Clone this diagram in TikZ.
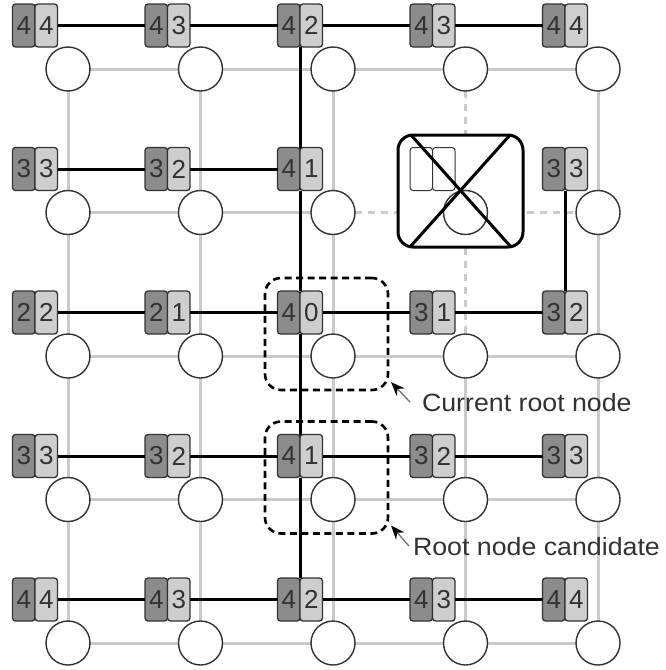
\documentclass[tikz,border=0pt]{standalone}
\usepackage{fontspec}
\setmainfont{Liberation Sans}
\newfontfamily\labelfont[FakeStretch=1.07]{Liberation Sans}
\usetikzlibrary{arrows.meta}

\definecolor{boxdark}{RGB}{140,140,140}
\definecolor{boxlight}{RGB}{206,206,206}
\definecolor{gridgray}{RGB}{202,202,202}
\definecolor{ink}{RGB}{50,50,50}

\pgfdeclarelayer{background}
\pgfsetlayers{background,main}

\begin{document}
\begin{tikzpicture}[x=1pt,y=-1pt,
  every node/.style={inner sep=0pt, outer sep=0pt},
  router/.style={circle, draw=ink, line width=1.4pt, fill=white, minimum size=44pt},
  halfbox/.style={rectangle, rounded corners=3pt, draw=ink, line width=1.3pt,
    minimum width=22.5pt, minimum height=43pt, text=ink,
    font=\fontsize{26}{26}\selectfont},
  dkbox/.style={halfbox, fill=boxdark, anchor=east},
  ltbox/.style={halfbox, fill=boxlight, anchor=west},
  link/.style={gridgray, line width=3pt},
  deadlink/.style={link, dash pattern=on 7pt off 6pt},
  tree/.style={black, line width=3pt},
  highlight/.style={rectangle, rounded corners=16pt, draw=black, line width=2.6pt,
    dash pattern=on 7pt off 4.5pt, minimum width=123pt, minimum height=112pt},
  failed/.style={rectangle, rounded corners=15pt, draw=black, line width=3pt,
    fill=white, minimum width=125pt, minimum height=112pt},
  callout/.style={draw=ink!70, line width=1.3pt,
    -{Stealth[length=14pt,width=11pt,color=black]}},
  caption/.style={font=\labelfont\fontsize{25}{25}\selectfont, text=ink, anchor=base west}
]
\useasboundingbox (0,0) rectangle (665,670);

% failed router: framed and crossed out
\node[failed] (dead) at (460.5,191) {};

% routers of the 5x5 mesh
\foreach \i/\x in {1/68,2/200.5,3/333,4/465.5,5/598}
  \foreach \j/\y in {1/69,2/212.5,3/356,4/499.5,5/643}
    \node[router] (c-\i-\j) at (\x,\y) {};

% mesh links
\begin{pgfonlayer}{background}
  \foreach \j in {1,3,4,5}
    \foreach \i/\n in {1/2,2/3,3/4,4/5}
      \draw[link] (c-\i-\j) -- (c-\n-\j);
  \draw[link] (c-1-2) -- (c-2-2) -- (c-3-2);
  \draw[deadlink] (c-3-2) -- (c-4-2) -- (c-5-2);
  \foreach \i in {1,2,3,5}
    \foreach \j/\n in {1/2,2/3,3/4,4/5}
      \draw[link] (c-\i-\j) -- (c-\i-\n);
  \draw[link] (c-4-3) -- (c-4-4) -- (c-4-5);
  \draw[deadlink] (c-4-1) -- (c-4-2) -- (c-4-3);
\end{pgfonlayer}

% distance labels of each router
\foreach \i/\j/\a/\b in {
    1/1/4/4, 2/1/4/3, 3/1/4/2, 4/1/4/3, 5/1/4/4,
    1/2/3/3, 2/2/3/2, 3/2/4/1,          5/2/3/3,
    1/3/2/2, 2/3/2/1, 3/3/4/0, 4/3/3/1, 5/3/3/2,
    1/4/3/3, 2/4/3/2, 3/4/4/1, 4/4/3/2, 5/4/3/3,
    1/5/4/4, 2/5/4/3, 3/5/4/2, 4/5/4/3, 5/5/4/4} {
  \node[dkbox] (dk-\i-\j) at ([shift={(-33,-43.5)}]c-\i-\j.center) {\a};
  \node[ltbox] (lt-\i-\j) at ([shift={(-33,-43.5)}]c-\i-\j.center) {\b};
}
\node[dkbox, fill=white, line width=1pt] (dk-4-2) at ([shift={(-33,-43.5)}]c-4-2.center) {};
\node[ltbox, fill=white, line width=1pt] (lt-4-2) at ([shift={(-33,-43.5)}]c-4-2.center) {};

% cross over the failed router
\draw[line width=3pt] ([xshift=13pt]dead.north west) -- ([xshift=-12pt]dead.south east);
\draw[line width=3pt] ([xshift=-13pt]dead.north east) -- ([xshift=12pt]dead.south west);

% spanning tree
\foreach \j in {1,3,4,5}
  \foreach \i/\n in {1/2,2/3,3/4,4/5}
    \draw[tree] (lt-\i-\j.east) -- (dk-\n-\j.west);
\draw[tree] (lt-1-2.east) -- (dk-2-2.west);
\draw[tree] (lt-2-2.east) -- (dk-3-2.west);
\foreach \j/\n in {1/2,2/3,3/4,4/5}
  \draw[tree] (dk-3-\j.south east) -- (dk-3-\n.north east);
\draw[tree] (dk-5-2.south east) -- (dk-5-3.north east);

% highlighted roots
\node[highlight] (hl-cur) at (326.5,334) {};
\node[highlight] (hl-cand) at (326.5,477.5) {};

\node[caption] (cap-cur) at (422,411) {Current root node};
\node[caption] (cap-cand) at (413,555) {Root node candidate};

\draw[callout] ([xshift=-12pt]cap-cur.west) -- ([shift={(3,-8)}]hl-cur.south east);
\draw[callout] ([xshift=-4pt]cap-cand.west) -- ([shift={(3,-8)}]hl-cand.south east);
\end{tikzpicture}
\end{document}
